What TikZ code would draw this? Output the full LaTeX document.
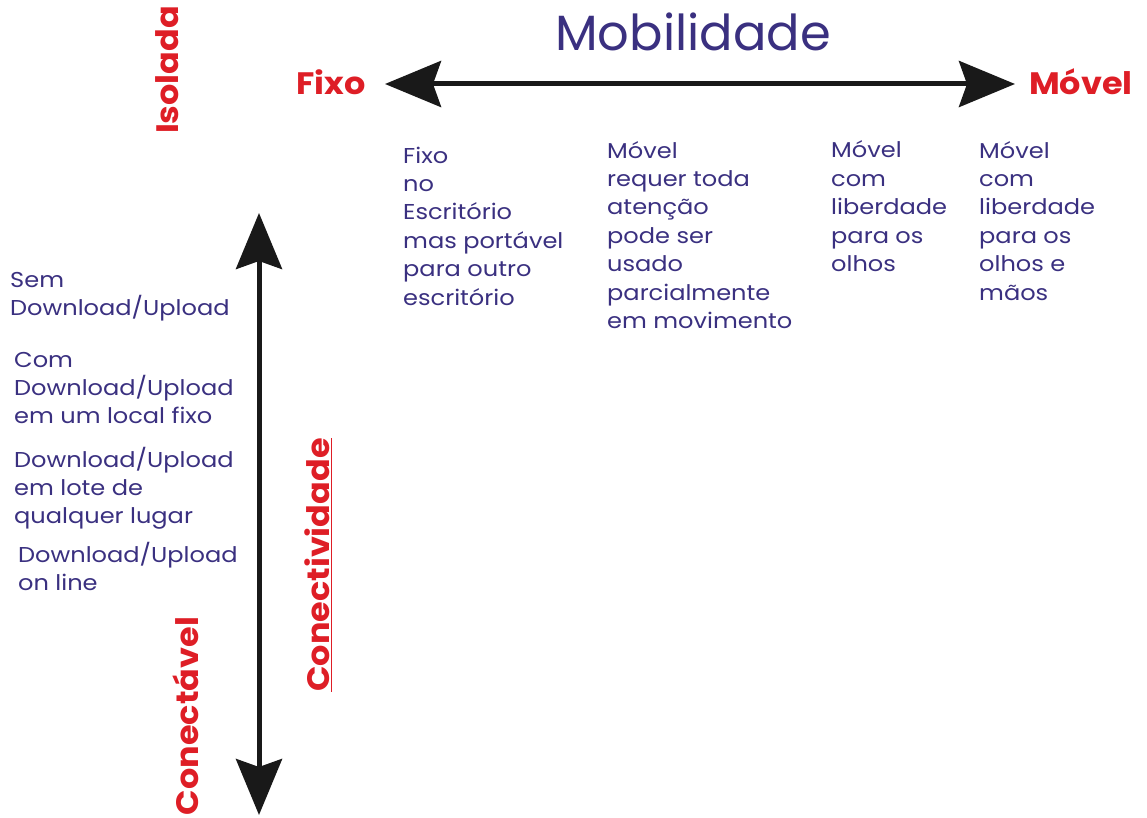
\documentclass[tikz,border=0pt]{standalone}
\usepackage{fontspec}
\setmainfont{Poppins}
\newfontfamily\descfont[FakeStretch=1.12]{Poppins}
\newfontfamily\labelfont[FakeStretch=1.08]{Poppins}
\usetikzlibrary{arrows.meta}
\definecolor{axisred}{RGB}{222,30,38}
\definecolor{inkblue}{RGB}{58,48,128}
\begin{document}
\begin{tikzpicture}[x=1pt,y=-1pt,
  axislabel/.style={text=axisred,font=\labelfont\fontsize{31}{33}\selectfont\bfseries,inner sep=0pt},
  desc/.style={text=inkblue,font=\descfont\fontsize{21.5}{28.4}\selectfont,align=left,anchor=base west,inner sep=0pt},
  bigarrow/.style={line width=5pt,draw=black!90,
    {Stealth[length=56pt,width=46pt,inset=8pt]}-{Stealth[length=56pt,width=46pt,inset=8pt]}}]
\useasboundingbox (0,0) rectangle (1147,818);

% horizontal axis: mobility
\node[text=inkblue,font=\fontsize{49.5}{51}\selectfont,inner sep=0pt] (mob) at (693,32) {Mobilidade};
\node[axislabel,anchor=east] (fixo) at (366,82) {Fixo};
\node[axislabel,anchor=west] (movel) at (1029,82) {Móvel};
\coordinate (hl) at (385,84);
\coordinate (hr) at (1015,84);
\draw[bigarrow] (hl) -- (hr);

% vertical axis: connectivity
\node[axislabel,rotate=90] (isolada) at (167,70) {Isolada};
\node[axislabel,rotate=90] (conectavel) at (186,716) {Conectável};
\node[axislabel,rotate=90] (conect) at (318,565) {\underline{Conectividade}};
\coordinate (vt) at (259,213);
\coordinate (vb) at (259,815);
\draw[bigarrow] (vt) -- (vb);

% mobility categories (anchored on the baseline of the last line)
\node[desc] (c1) at (403,305) {Fixo\\no\\Escritório\\mas portável\\para outro\\escritório};
\node[desc] (c2) at (607,328.4) {Móvel\\requer toda\\atenção\\pode ser\\usado\\parcialmente\\em movimento};
\node[desc] (c3) at (831,271.6) {Móvel\\com\\liberdade\\para os\\olhos};
\node[desc] (c4) at (979,300) {Móvel\\com\\liberdade\\para os\\olhos e\\mãos};

% connectivity categories
\node[desc] (r1) at (10,315.4) {Sem\\Download/Upload};
\node[desc] (r2) at (14,423.8) {Com\\Download/Upload\\em um local fixo};
\node[desc] (r3) at (14,523.8) {Download/Upload\\em lote de\\qualquer lugar};
\node[desc] (r4) at (18,590.4) {Download/Upload\\on line};
\end{tikzpicture}
\end{document}
